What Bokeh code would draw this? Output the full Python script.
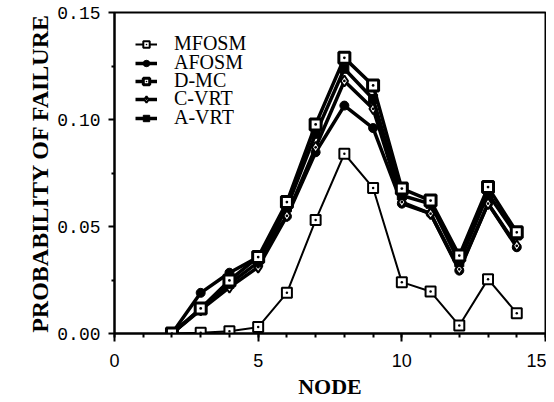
from bokeh.plotting import figure
from bokeh.models import Range1d, SingleIntervalTicker, FixedTicker, Legend, LegendItem, PrintfTickFormatter
from bokeh.embed import file_html
from bokeh.resources import INLINE

nodes = [2, 3, 4, 5, 6, 7, 8, 9, 10, 11, 12, 13, 14]
mfosm = [0.000, 0.0004, 0.001, 0.003, 0.019, 0.053, 0.084, 0.068, 0.024, 0.0196, 0.0037, 0.0254, 0.0095]
afosm = [0.000, 0.019, 0.0284, 0.0357, 0.0547, 0.0847, 0.1065, 0.096, 0.0607, 0.056, 0.0294, 0.0607, 0.0403]
dmc = [0.000, 0.0117, 0.0248, 0.0357, 0.0614, 0.0977, 0.1288, 0.1159, 0.0677, 0.0621, 0.0364, 0.0684, 0.0473]
cvrt = [0.000, 0.011, 0.0216, 0.031, 0.055, 0.087, 0.118, 0.105, 0.0614, 0.056, 0.030, 0.0607, 0.041]
avrt = [0.000, 0.0115, 0.0232, 0.0333, 0.059, 0.0933, 0.1237, 0.1096, 0.0645, 0.0606, 0.0333, 0.0653, 0.0458]
labels = ["MFOSM", "AFOSM", "D-MC", "C-VRT", "A-VRT"]
y_ticks = [0.0, 0.05, 0.10, 0.15]
y_minor = [0.025, 0.075, 0.125]

p = figure(width=546, height=402, output_backend="svg", toolbar_location=None,
           x_range=Range1d(0, 15), y_range=Range1d(0, 0.15),
           min_border_left=114, min_border_right=1, min_border_top=12, min_border_bottom=69)
p.background_fill_color = "white"
p.border_fill_color = "white"
p.grid.visible = False
p.outline_line_color = "black"
p.outline_line_width = 2

# axes
p.xaxis.ticker = SingleIntervalTicker(interval=5, num_minor_ticks=5)
p.yaxis.ticker = FixedTicker(ticks=y_ticks, minor_ticks=y_minor)
p.yaxis.formatter = PrintfTickFormatter(format="%.2f")
for ax in (p.xaxis, p.yaxis):
    ax.axis_line_color = "black"
    ax.axis_line_width = 2
    ax.major_tick_line_color = "black"
    ax.minor_tick_line_color = "black"
    ax.major_tick_line_width = 2
    ax.minor_tick_line_width = 2
    ax.major_tick_in = 0
    ax.minor_tick_in = 0
    ax.major_label_text_color = "black"
    ax.axis_label_text_color = "black"
    ax.axis_label_text_font = "Liberation Serif"
    ax.axis_label_text_font_style = "bold"
p.xaxis.major_tick_out = 8
p.xaxis.minor_tick_out = 4
p.yaxis.major_tick_out = 6
p.yaxis.minor_tick_out = 3
p.xaxis.major_label_text_font = "Liberation Sans"
p.xaxis.major_label_text_font_size = "18px"
p.xaxis.major_label_standoff = 12
p.yaxis.major_label_text_font = "Liberation Mono"
p.yaxis.major_label_text_font_size = "18px"
p.yaxis.major_label_standoff = 8
p.xaxis.axis_label = "NODE"
p.xaxis.axis_label_text_font_size = "22px"
p.xaxis.axis_label_standoff = 4
p.yaxis.axis_label = "PROBABILITY OF FAILURE"
p.yaxis.axis_label_text_font_size = "24px"
p.yaxis.axis_label_standoff = 1

# series
l1 = p.line(nodes, mfosm, line_color="black", line_width=2)
m1 = p.scatter(nodes, mfosm, marker="square_dot", size=10, fill_color="white", line_color="black", line_width=2)
l2 = p.line(nodes, afosm, line_color="black", line_width=3.5)
m2 = p.scatter(nodes, afosm, marker="circle", size=9, fill_color="black", line_color="black", line_width=1)
l4 = p.line(nodes, cvrt, line_color="black", line_width=3.5)
m4 = p.scatter(nodes, cvrt, marker="diamond_dot", size=11, fill_color="white", line_color="black", line_width=2)
l5 = p.line(nodes, avrt, line_color="black", line_width=3.5)
m5 = p.scatter(nodes, avrt, marker="square", size=9, fill_color="black", line_color="black", line_width=1)
l3 = p.line(nodes, dmc, line_color="black", line_width=3.5)
m3 = p.scatter(nodes, dmc, marker="square_dot", size=11, fill_color="white", line_color="black", line_width=3)

# one single-item legend per row, so that the rows can sit closer than the text box height
renderers = [[l1, m1], [l2, m2], [l3, m3], [l4, m4], [l5, m5]]
row_y = [278, 259, 241, 223, 204]
for lab, rs, yy in zip(labels, renderers, row_y):
    lg = Legend(items=[LegendItem(label=lab, renderers=rs)], location=(21, yy))
    lg.border_line_color = None
    lg.background_fill_alpha = 0
    lg.padding = 0
    lg.margin = 0
    lg.spacing = 0
    lg.glyph_width = 22
    lg.glyph_height = 16
    lg.label_height = 16
    lg.label_standoff = 17
    lg.label_text_font = "Liberation Serif"
    lg.label_text_font_size = "20px"
    lg.label_text_color = "black"
    lg.label_text_baseline = "middle"
    p.add_layout(lg, "center")

open("out.html", "w").write(file_html(p, INLINE))
